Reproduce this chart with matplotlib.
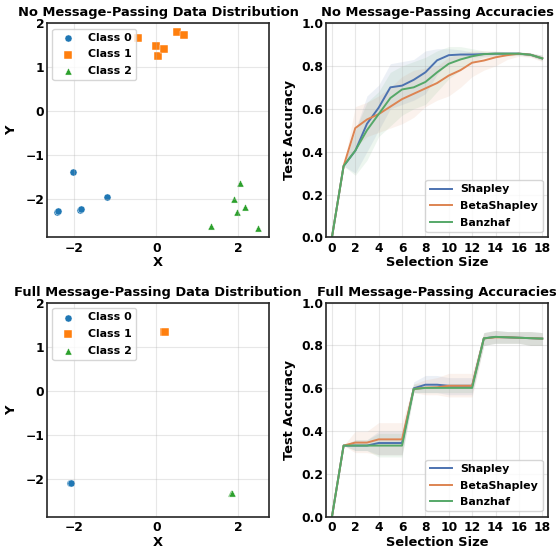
import numpy as np
import matplotlib
matplotlib.use("Agg")
import matplotlib.pyplot as plt

plt.rcParams["font.weight"] = "bold"
plt.rcParams["axes.labelweight"] = "bold"
plt.rcParams["axes.titleweight"] = "bold"

# ---- scatter data (2-D embedding) ----
no_mp_c0_x = [-2.03, -1.20, -1.87, -1.84, -2.43, -2.39]
no_mp_c0_y = [-1.37, -1.95, -2.24, -2.21, -2.29, -2.26]
no_mp_c1_x = [-0.45, 0.00, 0.05, 0.19, 0.50, 0.67]
no_mp_c1_y = [1.66, 1.47, 1.26, 1.40, 1.79, 1.73]
no_mp_c2_x = [2.05, 1.89, 2.16, 1.98, 1.33, 2.48]
no_mp_c2_y = [-1.62, -1.98, -2.18, -2.29, -2.60, -2.64]

full_mp_c0_x = [-2.10, -2.09]
full_mp_c0_y = [-2.10, -2.09]
full_mp_c1_x = [0.19, 0.20]
full_mp_c1_y = [1.33, 1.34]
full_mp_c2_x = [1.83, 1.84]
full_mp_c2_y = [-2.32, -2.31]

# ---- accuracy curves ----
sizes = list(range(19))

no_mp_shap = [0, 0.333, 0.404, 0.53, 0.605, 0.70, 0.708, 0.735, 0.77, 0.826, 0.85,
              0.853, 0.853, 0.855, 0.857, 0.857, 0.857, 0.852, 0.835]
no_mp_shap_lo = [0, 0.333, 0.30, 0.40, 0.50, 0.60, 0.62, 0.64, 0.67, 0.76, 0.82,
                 0.83, 0.84, 0.845, 0.85, 0.85, 0.85, 0.845, 0.825]
no_mp_shap_hi = [0, 0.333, 0.50, 0.66, 0.71, 0.81, 0.82, 0.83, 0.87, 0.88, 0.88,
                 0.875, 0.865, 0.865, 0.865, 0.865, 0.865, 0.86, 0.85]
no_mp_beta = [0, 0.333, 0.51, 0.55, 0.575, 0.61, 0.645, 0.67, 0.695, 0.72, 0.755,
              0.78, 0.815, 0.825, 0.84, 0.85, 0.857, 0.852, 0.835]
no_mp_beta_lo = [0, 0.333, 0.42, 0.47, 0.49, 0.51, 0.53, 0.56, 0.61, 0.64, 0.66,
                 0.70, 0.75, 0.78, 0.80, 0.83, 0.845, 0.84, 0.82]
no_mp_beta_hi = [0, 0.333, 0.61, 0.63, 0.66, 0.70, 0.75, 0.78, 0.79, 0.80, 0.84,
                 0.86, 0.87, 0.87, 0.87, 0.865, 0.865, 0.86, 0.85]
no_mp_banz = [0, 0.333, 0.405, 0.50, 0.575, 0.65, 0.69, 0.70, 0.725, 0.77, 0.81,
              0.83, 0.845, 0.855, 0.857, 0.857, 0.857, 0.852, 0.835]
no_mp_banz_lo = [0, 0.333, 0.29, 0.36, 0.47, 0.52, 0.57, 0.60, 0.62, 0.68, 0.74,
                 0.78, 0.82, 0.84, 0.845, 0.845, 0.85, 0.845, 0.825]
no_mp_banz_hi = [0, 0.333, 0.50, 0.63, 0.68, 0.77, 0.80, 0.82, 0.84, 0.87, 0.89,
                 0.89, 0.88, 0.87, 0.865, 0.865, 0.865, 0.86, 0.85]

full_mp_shap = [0, 0.333, 0.333, 0.333, 0.345, 0.345, 0.345, 0.600, 0.617, 0.617,
                0.612, 0.612, 0.612, 0.833, 0.840, 0.838, 0.836, 0.834, 0.832]
full_mp_shap_lo = [0, 0.333, 0.31, 0.31, 0.29, 0.29, 0.29, 0.58, 0.58, 0.58,
                   0.57, 0.57, 0.57, 0.80, 0.81, 0.81, 0.81, 0.80, 0.80]
full_mp_shap_hi = [0, 0.333, 0.36, 0.36, 0.40, 0.40, 0.40, 0.63, 0.66, 0.66,
                   0.65, 0.65, 0.65, 0.86, 0.87, 0.865, 0.865, 0.865, 0.86]
full_mp_beta = [0, 0.333, 0.347, 0.347, 0.362, 0.362, 0.362, 0.597, 0.603, 0.605,
                0.612, 0.612, 0.612, 0.833, 0.838, 0.838, 0.836, 0.834, 0.832]
full_mp_beta_lo = [0, 0.333, 0.30, 0.30, 0.29, 0.29, 0.29, 0.58, 0.57, 0.57,
                   0.56, 0.56, 0.56, 0.80, 0.81, 0.81, 0.81, 0.80, 0.80]
full_mp_beta_hi = [0, 0.333, 0.40, 0.40, 0.44, 0.44, 0.44, 0.62, 0.64, 0.65,
                   0.67, 0.67, 0.67, 0.86, 0.87, 0.865, 0.865, 0.865, 0.86]
full_mp_banz = [0, 0.333, 0.333, 0.333, 0.333, 0.333, 0.333, 0.597, 0.602, 0.602,
                0.602, 0.602, 0.602, 0.833, 0.840, 0.838, 0.836, 0.834, 0.832]
full_mp_banz_lo = [0, 0.333, 0.31, 0.31, 0.28, 0.28, 0.28, 0.58, 0.58, 0.58,
                   0.58, 0.58, 0.58, 0.80, 0.81, 0.81, 0.81, 0.80, 0.80]
full_mp_banz_hi = [0, 0.333, 0.36, 0.36, 0.39, 0.39, 0.39, 0.62, 0.62, 0.62,
                   0.62, 0.62, 0.62, 0.86, 0.87, 0.865, 0.865, 0.865, 0.86]

SC = ["#1f77b4", "#ff7f0e", "#2ca02c"]
LC = {"Shapley": "#4c72b0", "BetaShapley": "#dd8452", "Banzhaf": "#55a868"}

FS_T = 9.4   # titles / axis labels
FS_K = 8.8   # tick labels
FS_L = 7.9   # legends


def style(ax):
    ax.grid(True, alpha=0.3)
    ax.tick_params(axis="both", length=0, labelsize=FS_K)
    ax.tick_params(axis="x", pad=3.2)
    ax.tick_params(axis="y", pad=2.0)
    for s in ax.spines.values():
        s.set_linewidth(1.2)
        s.set_color("#262626")


def scatter_panel(ax, pts, title):
    for i, (xs, ys, m) in enumerate(pts):
        ax.scatter(xs, ys, s=26, marker=m, color=SC[i], edgecolors="white",
                   linewidths=0.3, label="Class %d" % i)
    ax.set_xlim(-2.67, 2.75)
    ax.set_ylim(-2.86, 2.0)
    ax.set_xticks([-2, 0, 2])
    ax.set_yticks([-2, -1, 0, 1, 2])
    ax.set_xlabel("X", fontsize=FS_T, labelpad=1)
    ax.set_ylabel("Y", fontsize=FS_T, labelpad=5)
    ax.set_title(title, fontsize=FS_T, pad=5)
    style(ax)
    ax.legend(loc="upper left", fontsize=FS_L, labelspacing=0.6)


def acc_panel(ax, series, title):
    for name, (m, lo, hi) in series.items():
        ax.fill_between(sizes, lo, hi, color=LC[name], alpha=0.1, lw=0)
        ax.plot(sizes, m, color=LC[name], lw=1.4, label=name)
    ax.set_xlim(-0.5, 18.5)
    ax.set_ylim(0, 1.0)
    ax.set_xticks(range(0, 19, 2))
    ax.set_xlabel("Selection Size", fontsize=FS_T, labelpad=1)
    ax.set_ylabel("Test Accuracy", fontsize=FS_T, labelpad=4)
    ax.set_title(title, fontsize=FS_T, pad=5)
    style(ax)
    ax.legend(loc="lower right", fontsize=FS_L, labelspacing=0.6)


fig, axs = plt.subplots(2, 2, figsize=(5.57, 5.48), dpi=100)
fig.subplots_adjust(left=0.0844, right=0.984, top=0.958, bottom=0.0566,
                    wspace=0.257, hspace=0.304)

scatter_panel(axs[0, 0], [(no_mp_c0_x, no_mp_c0_y, "o"),
                          (no_mp_c1_x, no_mp_c1_y, "s"),
                          (no_mp_c2_x, no_mp_c2_y, "^")],
              "No Message-Passing Data Distribution")
acc_panel(axs[0, 1], {"Shapley": (no_mp_shap, no_mp_shap_lo, no_mp_shap_hi),
                      "BetaShapley": (no_mp_beta, no_mp_beta_lo, no_mp_beta_hi),
                      "Banzhaf": (no_mp_banz, no_mp_banz_lo, no_mp_banz_hi)},
          "No Message-Passing Accuracies")
scatter_panel(axs[1, 0], [(full_mp_c0_x, full_mp_c0_y, "o"),
                          (full_mp_c1_x, full_mp_c1_y, "s"),
                          (full_mp_c2_x, full_mp_c2_y, "^")],
              "Full Message-Passing Data Distribution")
acc_panel(axs[1, 1], {"Shapley": (full_mp_shap, full_mp_shap_lo, full_mp_shap_hi),
                      "BetaShapley": (full_mp_beta, full_mp_beta_lo, full_mp_beta_hi),
                      "Banzhaf": (full_mp_banz, full_mp_banz_lo, full_mp_banz_hi)},
          "Full Message-Passing Accuracies")

fig.savefig("out.png", dpi=100)
